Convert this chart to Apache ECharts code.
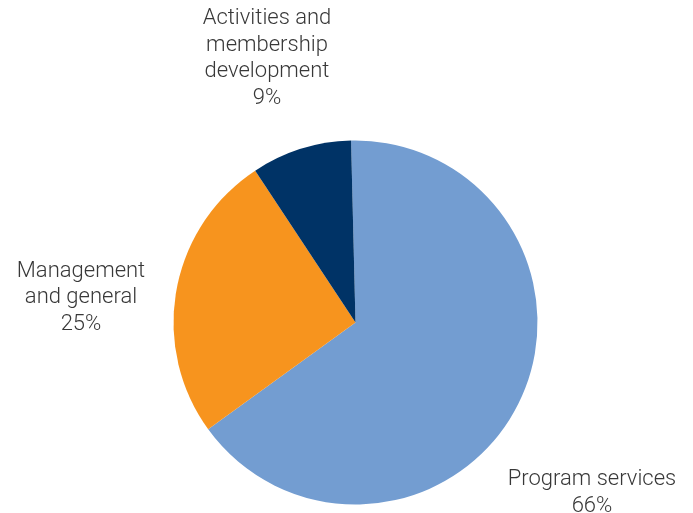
<!DOCTYPE html>
<html>
<head>
<meta charset="utf-8">
<script src="https://cdn.jsdelivr.net/npm/echarts@6/dist/echarts.min.js"></script>
<style>html,body{margin:0;padding:0;background:#fff}#c{width:693px;height:513px}</style>
</head>
<body>
<div id="c"></div>
<script>
const categories = ['Program services', 'Management and general', 'Activities and membership development'];
const values = [65.4, 25.7, 8.9];
const labelTexts = ['Program services\n66%', 'Management\nand general\n25%', 'Activities and\nmembership\ndevelopment\n9%'];
const colors = ['#739DD1', '#F7941E', '#003366'];
const labelPos = [[592, 493], [81, 297.5], [267, 58.5]];

const chart = echarts.init(document.getElementById('c'), null, {renderer: 'canvas'});
chart.setOption({
  animation: false,
  series: [{
    type: 'pie',
    center: [355.5, 322.5],
    radius: 182,
    startAngle: 91.4,
    clockwise: true,
    data: categories.map((n, i) => ({name: n, value: values[i], itemStyle: {color: colors[i]}})),
    label: {
      show: true,
      position: 'outside',
      formatter: p => labelTexts[p.dataIndex],
      fontFamily: 'Roboto',
      fontWeight: 300,
      fontSize: 22,
      lineHeight: 26.5,
      color: '#383838',
      align: 'center',
      overflow: 'none'
    },
    labelLine: {show: false},
    labelLayout: p => ({x: labelPos[p.dataIndex][0], y: labelPos[p.dataIndex][1], align: 'center', verticalAlign: 'middle', hideOverlap: false}),
    emphasis: {disabled: true}
  }]
});
</script>
</body>
</html>
